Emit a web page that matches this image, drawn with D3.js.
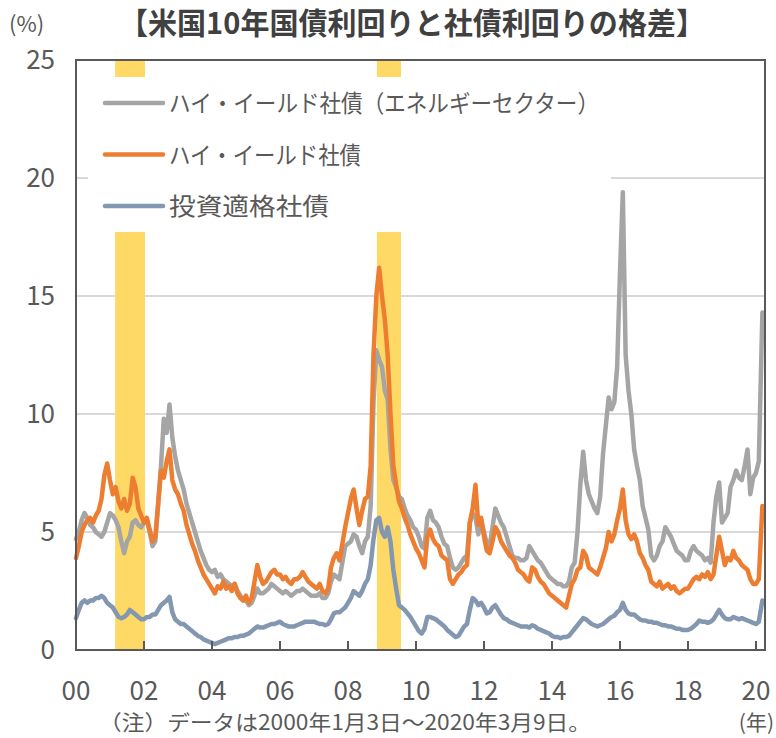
<!DOCTYPE html>
<html>
<head>
<meta charset="utf-8">
<script src="https://cdn.jsdelivr.net/npm/d3@7"></script>
<style>
  body { margin: 0; background: #fff; }
  text { font-family: "Noto Sans CJK JP", "Noto Sans", sans-serif; fill: #595959; }
</style>
</head>
<body>
<div id="chart"></div>
<script>
const width = 776;
const height = 738;

// monthly readings, Jan 2000 .. Mar 2020 (last value = 2020/3/9)
const energyHY = [
  4.7, 5.0, 5.5, 5.8, 5.6, 5.3, 5.2, 5.0, 4.9, 4.8, 5.0, 5.4,
  5.8, 5.7, 5.5, 5.2, 4.6, 4.1, 4.6, 4.8, 5.4, 5.5, 5.3, 5.2,
  5.4, 5.5, 5.0, 4.4, 4.6, 6.2, 7.8, 9.8, 9.2, 10.4, 9.0, 8.2,
  7.6, 7.2, 6.8, 6.2, 5.8, 5.4, 5.0, 4.6, 4.2, 3.9, 3.6, 3.4,
  3.3, 3.4, 3.1, 3.2, 3.0, 2.9, 2.8, 2.7, 2.8, 2.5, 2.3, 2.1,
  2.1, 1.9, 2.0, 2.3, 2.6, 2.4, 2.4, 2.5, 2.6, 2.8, 2.7, 2.6,
  2.5, 2.4, 2.5, 2.4, 2.3, 2.4, 2.5, 2.5, 2.6, 2.5, 2.4, 2.3,
  2.3, 2.3, 2.4, 2.2, 2.2, 2.4, 2.9, 3.2, 3.1, 3.0, 3.7, 4.4,
  4.5, 4.6, 4.9, 4.8, 4.4, 4.1, 4.6, 4.8, 6.1, 10.5, 12.7, 12.3,
  12.0, 11.0, 10.6, 8.5, 7.2, 6.9, 6.5, 6.4, 6.0, 5.7, 5.5, 5.2,
  5.1, 4.8, 4.4, 4.3, 5.6, 5.9, 5.5, 5.4, 5.2, 4.8, 4.5, 4.4,
  3.9, 3.5, 3.4, 3.5, 3.7, 3.9, 4.0, 5.4, 5.8, 5.6, 4.9, 5.5,
  5.0, 4.5, 4.4, 5.2, 6.0, 5.7, 5.4, 5.2, 4.8, 4.4, 4.0, 3.9,
  3.9, 3.8, 3.8, 3.9, 4.4, 4.2, 4.0, 3.8, 3.7, 3.5, 3.3, 3.1,
  3.0, 2.9, 2.8, 2.8, 2.7, 2.7, 2.9, 3.5, 3.7, 5.0, 7.0, 8.4,
  7.2, 6.6, 6.3, 6.0, 5.8, 6.5, 8.3, 9.5, 10.7, 10.2, 10.5, 12.0,
  16.0, 19.4, 12.5, 11.0, 10.0, 8.5, 7.8, 7.2, 6.1, 5.6, 5.1, 4.0,
  3.8, 4.0, 4.4, 4.6, 5.2, 5.0, 4.8, 4.5, 4.2, 4.1, 4.0, 3.8,
  3.8, 4.2, 4.4, 4.2, 4.1, 4.0, 3.8, 3.9, 3.7, 5.4, 6.5, 7.1,
  5.4, 5.6, 5.8, 6.9, 7.2, 7.6, 7.3, 7.2, 7.8, 8.5, 6.6, 7.3,
  7.5, 8.0, 14.3
];

const highYield = [
  3.9, 4.4, 5.0, 5.3, 5.5, 5.6, 5.4, 5.7, 5.9, 6.4, 7.4, 7.9,
  7.2, 6.6, 6.9, 6.3, 6.0, 6.4, 5.9, 6.2, 7.3, 6.9, 6.0, 5.7,
  5.4, 5.6, 5.1, 4.6, 4.8, 6.2, 7.6, 7.3, 8.0, 8.5, 7.2, 6.8,
  6.6, 6.2, 5.9, 5.3, 4.9, 4.5, 4.2, 3.8, 3.5, 3.2, 3.0, 2.8,
  2.6, 2.4, 2.7, 2.6, 2.9, 2.6, 2.7, 2.5, 2.8, 2.4, 2.2, 2.1,
  2.3, 2.0, 2.2, 2.9, 3.6, 3.1, 2.8, 2.9, 3.1, 3.3, 3.4, 3.2,
  3.2, 3.0, 3.1, 2.9, 2.8, 3.0, 3.0, 3.1, 3.3, 3.1, 2.9, 2.8,
  2.7, 2.6, 2.8, 2.5, 2.4, 2.6, 3.5, 3.9, 4.1, 3.8, 4.5, 5.2,
  5.8, 6.4, 6.8, 6.0, 5.3, 5.9, 6.4, 6.5, 7.8, 12.5, 15.0, 16.2,
  15.0, 14.0, 12.5, 10.0, 7.8, 7.0, 6.3, 6.0, 5.6, 5.3, 4.9, 4.6,
  4.3, 4.1, 3.8, 3.5, 4.8, 5.1, 4.7, 4.5, 4.4, 4.0, 3.9, 3.8,
  3.0, 2.8, 3.0, 3.2, 3.3, 3.5, 3.6, 5.4, 6.0, 7.0, 5.3, 5.6,
  4.8, 4.2, 4.1, 4.6, 5.2, 5.0, 4.6, 4.4, 4.2, 4.0, 3.9, 3.7,
  3.4, 3.3, 3.2, 3.0, 2.9, 3.5, 3.4, 3.1, 2.9, 2.8, 2.6, 2.4,
  2.3, 2.2, 2.1, 2.0, 1.9, 1.8, 2.3, 2.8, 3.0, 3.4, 3.5, 4.2,
  4.0, 3.5, 3.4, 3.3, 3.2, 3.5, 3.9, 4.3, 5.0, 4.6, 4.9, 5.5,
  6.0, 6.8, 5.5, 4.9, 4.7, 4.9, 4.6, 4.1, 3.9, 3.6, 3.4, 2.9,
  2.8, 2.7, 2.9, 2.6, 2.7, 2.8, 2.6, 2.7, 2.5, 2.4, 2.5, 2.6,
  2.6, 2.8, 3.0, 3.1, 3.0, 3.2, 3.1, 3.3, 3.0, 3.2, 4.0, 4.8,
  4.2, 3.6, 3.9, 3.8, 4.2, 3.9, 3.8, 3.6, 3.5, 3.4, 3.0, 2.8,
  2.8, 3.0, 6.1
];

const investmentGrade = [
  1.35, 1.7, 2.0, 2.1, 2.0, 2.1, 2.1, 2.2, 2.2, 2.3, 2.2, 2.0,
  1.9, 1.8, 1.6, 1.4, 1.35, 1.4, 1.5, 1.7, 1.6, 1.5, 1.4, 1.3,
  1.3, 1.4, 1.4, 1.5, 1.5, 1.7, 1.9, 2.0, 2.1, 2.25, 1.6, 1.3,
  1.2, 1.1, 1.1, 1.0, 0.9, 0.8, 0.7, 0.6, 0.55, 0.45, 0.4, 0.35,
  0.3, 0.25, 0.3, 0.35, 0.4, 0.45, 0.5, 0.5, 0.55, 0.55, 0.6, 0.6,
  0.65, 0.7, 0.8, 0.9, 1.0, 0.95, 0.95, 1.0, 1.05, 1.1, 1.1, 1.15,
  1.2, 1.1, 1.05, 1.0, 1.0, 1.0, 1.05, 1.1, 1.15, 1.2, 1.2, 1.2,
  1.2, 1.15, 1.1, 1.1, 1.05, 1.1, 1.3, 1.55, 1.6, 1.6, 1.7, 1.8,
  2.0, 2.2, 2.5, 2.4, 2.3, 2.5, 2.8, 3.0, 3.6, 4.7, 5.5, 5.6,
  5.0, 4.8, 5.2, 4.6, 3.4, 2.6, 1.9, 1.8, 1.7, 1.55, 1.4, 1.2,
  1.0, 0.8, 0.7, 0.9, 1.4, 1.4, 1.35, 1.3, 1.2, 1.1, 1.0, 0.85,
  0.75, 0.65, 0.55, 0.6, 0.8, 1.0, 1.1, 1.7, 2.2, 2.1, 1.9, 2.0,
  1.8, 1.55, 1.6, 1.8, 1.9, 1.7, 1.5, 1.35, 1.3, 1.2, 1.15, 1.1,
  1.05, 1.0, 1.0, 1.0, 0.95, 1.05, 1.0, 0.9, 0.85, 0.8, 0.75, 0.7,
  0.6, 0.55, 0.55, 0.5, 0.55, 0.55, 0.6, 0.75, 0.9, 1.05, 1.2, 1.35,
  1.3, 1.2, 1.1, 1.05, 1.0, 1.05, 1.1, 1.2, 1.3, 1.4, 1.45, 1.6,
  1.7, 2.0, 1.7, 1.55, 1.5, 1.5, 1.4, 1.3, 1.25, 1.25, 1.2, 1.2,
  1.15, 1.15, 1.1, 1.05, 1.05, 1.0, 1.0, 0.95, 0.9, 0.9, 0.85, 0.85,
  0.85, 0.9, 1.0, 1.1, 1.25, 1.2, 1.2, 1.15, 1.2, 1.3, 1.5, 1.7,
  1.5, 1.35, 1.3, 1.3, 1.4, 1.35, 1.3, 1.35, 1.3, 1.25, 1.2, 1.15,
  1.1, 1.2, 2.1
];

// shaded periods (fractional years)
const bandStart = [2001.15, 2008.85];
const bandEnd = [2002.03, 2009.56];

const yTicks = [0, 5, 10, 15, 20, 25];
const xTicks = [2000, 2002, 2004, 2006, 2008, 2010, 2012, 2014, 2016, 2018, 2020];
const xTickLabels = ["00", "02", "04", "06", "08", "10", "12", "14", "16", "18", "20"];

const seriesNames = ["ハイ・イールド社債（エネルギーセクター）", "ハイ・イールド社債", "投資適格社債"];
const seriesColors = ["#a5a5a5", "#ed7d31", "#8497b0"];

// month index -> fractional year; last point is 2020/3/9
const toYear = (i, n) => i === n - 1 ? 2020 + (2 + 8 / 31) / 12 : 2000 + i / 12;

const margin = { top: 60, right: 11, bottom: 88, left: 76 };

const svg = d3.select("#chart")
  .append("svg")
  .attr("width", width)
  .attr("height", height);

const x = d3.scaleLinear()
  .domain([2000, 2020.265])
  .range([margin.left, width - margin.right]);

const y = d3.scaleLinear()
  .domain([0, 25])
  .range([height - margin.bottom, margin.top]);

// gridlines
svg.append("g")
  .selectAll("line")
  .data(yTicks.filter(d => d > 0 && d < 25))
  .enter()
  .append("line")
  .attr("x1", x.range()[0])
  .attr("x2", x.range()[1])
  .attr("y1", d => y(d))
  .attr("y2", d => y(d))
  .attr("stroke", "#d9d9d9")
  .attr("stroke-width", 2);

// shaded bands
svg.append("g")
  .selectAll("rect")
  .data(bandStart)
  .enter()
  .append("rect")
  .attr("x", d => x(d))
  .attr("width", (d, i) => x(bandEnd[i]) - x(d))
  .attr("y", y(25))
  .attr("height", y(0) - y(25))
  .attr("fill", "#ffd966");

// series
const allSeries = [energyHY, highYield, investmentGrade];
const line = d3.line()
  .x(d => x(d[0]))
  .y(d => y(d[1]))
  .curve(d3.curveLinear);

allSeries.forEach((vals, k) => {
  const pts = vals.map((v, i) => [toYear(i, vals.length), v]);
  svg.append("path")
    .datum(pts)
    .attr("d", line)
    .attr("fill", "none")
    .attr("stroke", seriesColors[k])
    .attr("stroke-width", 4.5)
    .attr("stroke-linejoin", "round")
    .attr("stroke-linecap", "round");
});

// legend (white box hides what's under it)
const legend = svg.append("g").attr("id", "legend");
legend.append("rect")
  .attr("x", 88)
  .attr("y", 77)
  .attr("width", 523)
  .attr("height", 155)
  .attr("fill", "#fff");

const legendLen = [430, 192, 160];
seriesNames.forEach((name, i) => {
  const ly = 103 + i * 51.5;
  legend.append("line")
    .attr("x1", 105).attr("x2", 163)
    .attr("y1", ly).attr("y2", ly)
    .attr("stroke", seriesColors[i])
    .attr("stroke-width", 4.5)
    .attr("stroke-linecap", "round");
  legend.append("text")
    .attr("x", 169)
    .attr("y", ly + 9)
    .attr("font-size", 24)
    .attr("textLength", legendLen[i])
    .attr("lengthAdjust", "spacingAndGlyphs")
    .text(name);
});

// axes frame
const frame = svg.append("g");
frame.append("rect")
  .attr("x", x.range()[0])
  .attr("y", y(25))
  .attr("width", x.range()[1] - x.range()[0])
  .attr("height", y(0) - y(25))
  .attr("fill", "none")
  .attr("stroke", "#595959")
  .attr("stroke-width", 2);

// x ticks (inward)
frame.selectAll("line.tick")
  .data(xTicks)
  .enter()
  .append("line")
  .attr("class", "tick")
  .attr("x1", d => x(d))
  .attr("x2", d => x(d))
  .attr("y1", y(0))
  .attr("y2", y(0) - 9)
  .attr("stroke", "#595959")
  .attr("stroke-width", 2);

svg.append("g")
  .selectAll("text")
  .data(xTicks)
  .enter()
  .append("text")
  .attr("x", d => x(d))
  .attr("y", 700)
  .attr("text-anchor", "middle")
  .attr("font-size", 26)
  .text((d, i) => xTickLabels[i]);

svg.append("g")
  .selectAll("text")
  .data(yTicks)
  .enter()
  .append("text")
  .attr("x", 55)
  .attr("y", d => y(d) + 9)
  .attr("text-anchor", "end")
  .attr("font-size", 26)
  .text(d => d);

// titles and notes
svg.append("text")
  .attr("x", 119)
  .attr("y", 34)
  .attr("font-size", 30)
  .attr("font-weight", "bold")
  .attr("textLength", 586)
  .attr("lengthAdjust", "spacingAndGlyphs")
  .style("fill", "#404040")
  .text("【米国10年国債利回りと社債利回りの格差】");

svg.append("text")
  .attr("x", 9)
  .attr("y", 32)
  .attr("font-size", 22)
  .text("(%)");

svg.append("text")
  .attr("x", 99)
  .attr("y", 730)
  .attr("font-size", 21)
  .attr("textLength", 492)
  .attr("lengthAdjust", "spacingAndGlyphs")
  .text("（注）データは2000年1月3日～2020年3月9日。");

svg.append("text")
  .attr("x", 774)
  .attr("y", 730)
  .attr("text-anchor", "end")
  .attr("font-size", 21)
  .text("(年)");
</script>
</body>
</html>
